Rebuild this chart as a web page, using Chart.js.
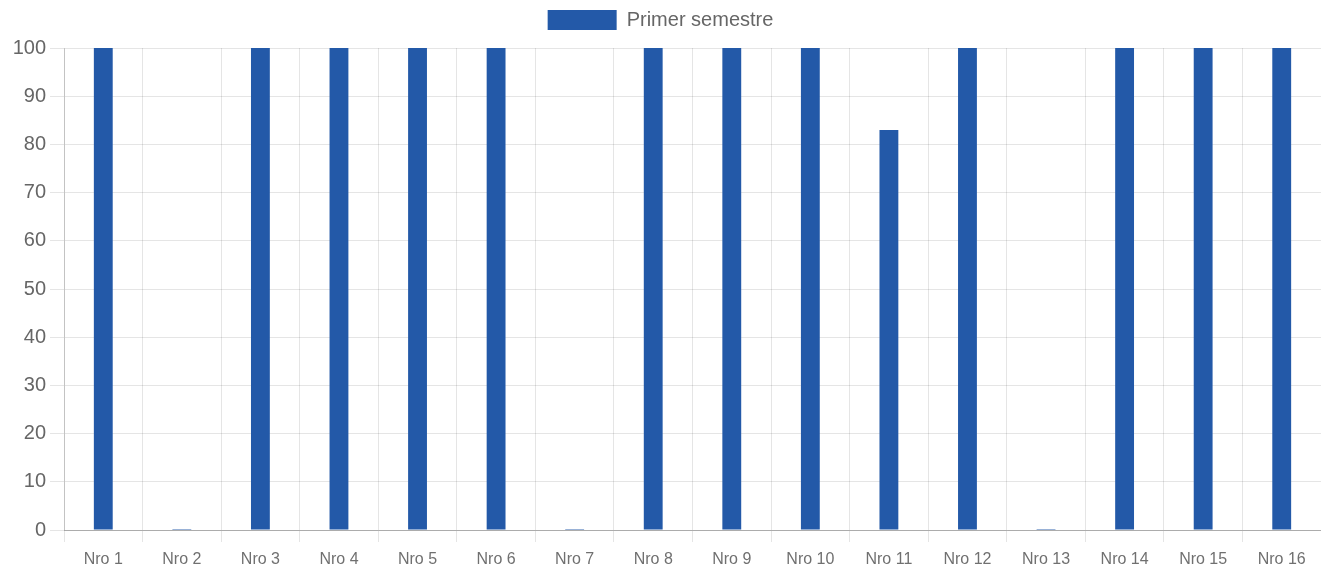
<!DOCTYPE html>
<html>
<head>
<meta charset="utf-8">
<script src="https://cdn.jsdelivr.net/npm/chart.js@4/dist/chart.umd.min.js"></script>
<style>
  html, body { margin: 0; padding: 0; background: #fff; }
  #wrap { width: 1321px; height: 571px; position: relative; }
</style>
</head>
<body>
<div id="wrap"><canvas id="c"></canvas></div>
<script>
// Categories and values for the semester bar chart
const categories = ['Nro 1', 'Nro 2', 'Nro 3', 'Nro 4', 'Nro 5', 'Nro 6', 'Nro 7', 'Nro 8',
                    'Nro 9', 'Nro 10', 'Nro 11', 'Nro 12', 'Nro 13', 'Nro 14', 'Nro 15', 'Nro 16'];
const primerSemestre = [100, 0.2, 100, 100, 100, 100, 0.2, 100, 100, 100, 83, 100, 0.2, 100, 100, 100];
const yTicks = [0, 10, 20, 30, 40, 50, 60, 70, 80, 90, 100];
const seriesName = 'Primer semestre';

const FONT = "'Liberation Sans', Arial, Helvetica, sans-serif";
const BLUE = 'rgb(35, 89, 168)';

// Adds some extra room between the legend and the plot area
const legendGap = {
  id: 'legendGap',
  beforeLayout(chart) {
    const lg = chart.legend;
    if (lg && !lg._gapPatched) {
      const fit = lg.fit;
      lg.fit = function () { fit.call(this); this.height += 8; };
      lg._gapPatched = true;
    }
  }
};

new Chart(document.getElementById('c'), {
  type: 'bar',
  data: {
    labels: categories,
    datasets: [{
      label: seriesName,
      data: primerSemestre,
      backgroundColor: BLUE,
      borderColor: BLUE,
      borderWidth: 0,
      categoryPercentage: 0.8,
      barPercentage: 0.3
    }]
  },
  plugins: [legendGap],
  options: {
    responsive: true,
    maintainAspectRatio: false,
    animation: false,
    layout: { padding: 0 },
    plugins: {
      tooltip: { enabled: false },
      legend: {
        position: 'top',
        labels: {
          boxWidth: 69,
          boxHeight: 20,
          padding: 10,
          color: '#666',
          font: { family: FONT, size: 20 }
        }
      }
    },
    scales: {
      x: {
        grid: {
          offset: true,
          color: 'rgba(0,0,0,0.1)',
          tickLength: 12
        },
        border: { color: 'rgba(0,0,0,0.25)' },
        ticks: {
          color: '#707070',
          font: { family: FONT, size: 16 },
          maxRotation: 0,
          autoSkip: false,
          padding: 8
        },
        afterFit: s => { s.height = 41; }
      },
      y: {
        min: 0,
        max: 100,
        afterBuildTicks: s => { s.ticks = yTicks.map(v => ({ value: v })); },
        grid: {
          color: 'rgba(0,0,0,0.1)',
          tickLength: 14
        },
        border: { color: 'rgba(0,0,0,0.15)' },
        ticks: {
          color: '#666',
          font: { family: FONT, size: 20 },
          padding: 4
        },
        afterFit: s => { s.width = 64; }
      }
    }
  }
});
</script>
</body>
</html>
